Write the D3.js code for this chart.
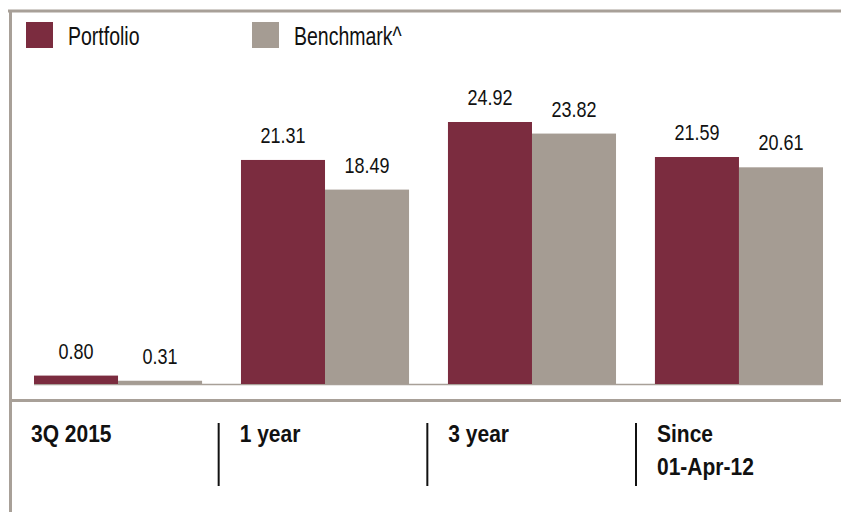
<!DOCTYPE html>
<html><head><meta charset="utf-8">
<script src="https://cdn.jsdelivr.net/npm/d3@7"></script>
<style>body{margin:0;background:#fff}svg{display:block}</style>
</head><body>
<svg id="c" width="841" height="512"></svg>
<script>
const categories = ["3Q 2015", "1 year", "3 year", "Since\n01-Apr-12"];
const series = ["Portfolio", "Benchmark^"];
const portfolio = [0.80, 21.31, 24.92, 21.59];
const benchmark = [0.31, 18.49, 23.82, 20.61];
const colors = ["#7b2c3f", "#a59c93"];
const frameColor = "#a8a098";

const svg = d3.select("#c");
const W = 841, H = 512;
const baseY = 384;

const x0 = d3.scaleBand().domain(categories).range([34, 823]).paddingInner(0.188).paddingOuter(0);
const x1 = d3.scaleBand().domain(series).range([0, x0.bandwidth()]).padding(0);
const y = d3.scaleLinear().domain([0, 24.92]).range([baseY, 122]);

// frame
svg.append("line").attr("x1", 8).attr("x2", W).attr("y1", 11).attr("y2", 11)
  .attr("stroke", frameColor).attr("stroke-width", 3);
svg.append("line").attr("x1", 10.5).attr("x2", 10.5).attr("y1", 10).attr("y2", H)
  .attr("stroke", frameColor).attr("stroke-width", 3);

// legend
const legX = [26, 252];
series.forEach((s, i) => {
  svg.append("rect").attr("x", legX[i]).attr("y", 22).attr("width", 27).attr("height", 26).attr("fill", colors[i]);
  svg.append("text").attr("transform", `translate(${legX[i] + 42},45) scale(1,1.28)`)
    .attr("font-family", "Liberation Sans, Arial, sans-serif").attr("font-size", 19.5)
    .attr("fill", "#111").text(s);
});

// baseline
svg.append("line").attr("x1", 34).attr("x2", 823).attr("y1", baseY + 0.5).attr("y2", baseY + 0.5)
  .attr("stroke", frameColor).attr("stroke-width", 1.5);

// bars
const data = categories.map((c, i) => ({c, vals: [portfolio[i], benchmark[i]]}));
const g = svg.selectAll("g.grp").data(data).join("g").attr("class", "grp")
  .attr("transform", d => `translate(${x0(d.c)},0)`);
g.selectAll("rect").data(d => d.vals.map((v, j) => ({s: series[j], v, j}))).join("rect")
  .attr("x", d => x1(d.s)).attr("width", x1.bandwidth())
  .attr("y", d => y(d.v)).attr("height", d => baseY - y(d.v))
  .attr("fill", d => colors[d.j]);
g.selectAll("text").data(d => d.vals.map((v, j) => ({s: series[j], v, j}))).join("text")
  .attr("transform", d => `translate(${x1(d.s) + x1.bandwidth() / 2},${y(d.v) - 17}) scale(1,1.22)`)
  .attr("text-anchor", "middle")
  .attr("font-family", "Liberation Sans, Arial, sans-serif").attr("font-size", 18)
  .attr("fill", "#111").text(d => d3.format(".2f")(d.v));

// separator line
svg.append("line").attr("x1", 10).attr("x2", W).attr("y1", 400.5).attr("y2", 400.5)
  .attr("stroke", frameColor).attr("stroke-width", 3);

// footer category labels
const xf = d3.scalePoint().domain(categories).range([31, 657]);
const sy = 1.13;
categories.forEach((c, i) => {
  const t = svg.append("text").attr("transform", `translate(${xf(c)},442) scale(1,${sy})`)
    .attr("font-family", "Liberation Sans, Arial, sans-serif").attr("font-weight", "bold")
    .attr("font-size", 21).attr("fill", "#111");
  c.split("\n").forEach((line, k) => {
    t.append("tspan").attr("x", 0).attr("dy", k === 0 ? 0 : 33 / sy).text(line);
  });
  if (i > 0) {
    svg.append("line").attr("x1", xf(c) - 21).attr("x2", xf(c) - 21).attr("y1", 423).attr("y2", 486)
      .attr("stroke", "#111").attr("stroke-width", 2);
  }
});
</script>
</body></html>
